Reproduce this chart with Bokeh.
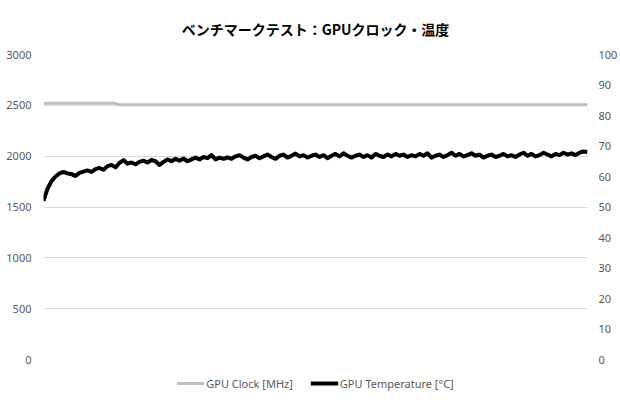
from bokeh.plotting import figure
from bokeh.models import Range1d, LinearAxis, Legend, LegendItem, FixedTicker
from bokeh.embed import file_html
from bokeh.resources import INLINE

title_text = "ベンチマークテスト：GPUクロック・温度"
clock_label = "GPU Clock [MHz]"
temp_label = "GPU Temperature [°C]"

left_ticks = [0, 500, 1000, 1500, 2000, 2500, 3000]
right_ticks = [0, 10, 20, 30, 40, 50, 60, 70, 80, 90, 100]

gpu_temp = [
    52.0, 56.0, 58.5, 60.0, 61.0, 61.5, 61.0, 60.8, 60.2, 61.2,
    61.6, 62.0, 61.5, 62.4, 62.8, 62.2, 63.4, 63.8, 63.0, 64.5,
    65.4, 64.2, 64.6, 64.0, 64.8, 65.2, 64.6, 65.4, 65.0, 63.8,
    64.8, 65.6, 65.0, 65.8, 65.2, 65.9, 65.0, 65.6, 66.2, 65.6,
    66.4, 66.0, 67.0, 65.6, 66.2, 65.8, 66.3, 65.8, 66.6, 67.0,
    66.2, 65.6, 66.4, 66.8, 66.0, 66.6, 67.2, 66.4, 65.8, 66.8,
    67.2, 66.2, 66.8, 67.5, 66.6, 67.0, 66.2, 66.8, 67.2, 66.4,
    67.0, 66.0, 66.8, 67.4, 66.6, 67.6, 66.8, 66.2, 66.8, 67.2,
    66.4, 67.0, 66.2, 67.4, 66.8, 66.4, 67.2, 66.6, 67.4, 66.8,
    67.2, 66.4, 67.0, 66.6, 67.4, 66.8, 67.6, 66.2, 66.8, 67.2,
    66.4, 67.0, 67.8, 66.8, 67.4, 66.6, 67.0, 67.6, 66.8, 67.2,
    66.2, 66.8, 67.2, 66.4, 66.8, 67.4, 66.6, 67.0, 66.4, 67.2,
    67.8, 66.8, 67.4, 66.6, 67.0, 67.8, 67.2, 66.6, 67.4, 67.0,
    67.8, 67.2, 67.6, 67.0, 67.8, 68.2, 68.0,
]

gpu_clock = [
    2520, 2520, 2520, 2520, 2520, 2520, 2520, 2520, 2520, 2520,
    2520, 2520, 2520, 2520, 2520, 2520, 2520, 2520, 2520, 2505,
    2505, 2505, 2505, 2505, 2505, 2505, 2505, 2505, 2505, 2505,
    2505, 2505, 2505, 2505, 2505, 2505, 2505, 2505, 2505, 2505,
    2505, 2505, 2505, 2505, 2505, 2505, 2505, 2505, 2505, 2505,
    2505, 2505, 2505, 2505, 2505, 2505, 2505, 2505, 2505, 2505,
    2505, 2505, 2505, 2505, 2505, 2505, 2505, 2505, 2505, 2505,
    2505, 2505, 2505, 2505, 2505, 2505, 2505, 2505, 2505, 2505,
    2505, 2505, 2505, 2505, 2505, 2505, 2505, 2505, 2505, 2505,
    2505, 2505, 2505, 2505, 2505, 2505, 2505, 2505, 2505, 2505,
    2505, 2505, 2505, 2505, 2505, 2505, 2505, 2505, 2505, 2505,
    2505, 2505, 2505, 2505, 2505, 2505, 2505, 2505, 2505, 2505,
    2505, 2505, 2505, 2505, 2505, 2505, 2505, 2505, 2505, 2505,
    2505, 2505, 2505, 2505, 2505, 2505, 2505,
]

samples = list(range(len(gpu_temp)))

p = figure(
    frame_width=544, frame_height=305,
    output_backend="svg", toolbar_location=None,
    x_range=Range1d(0, len(samples) - 1),
    y_range=Range1d(0, 3000),
    x_axis_type=None,
    min_border_left=43, min_border_right=32,
    min_border_top=54, min_border_bottom=40,
)
p.extra_y_ranges = {"temp": Range1d(0, 100)}

p.title.text = title_text
p.title.align = "center"
p.title.text_font = "Noto Sans CJK JP"
p.title.text_font_size = "14px"
p.title.text_font_style = "bold"
p.title.text_color = "#000000"
p.title.standoff = 31

p.xgrid.visible = False
p.ygrid.ticker = FixedTicker(ticks=left_ticks)
p.ygrid.grid_line_color = "#d9d9d9"
p.outline_line_color = None

ax = p.yaxis[0]
ax.ticker = FixedTicker(ticks=left_ticks)
ax.axis_line_color = None
ax.major_tick_line_color = None
ax.minor_tick_line_color = None
ax.major_tick_out = 0
ax.major_tick_in = 0
ax.minor_tick_out = 0
ax.major_label_text_font = "Noto Sans"
ax.major_label_text_font_size = "11px"
ax.major_label_text_color = "#595959"
ax.major_label_standoff = 12

rax = LinearAxis(y_range_name="temp", ticker=FixedTicker(ticks=right_ticks))
rax.axis_line_color = None
rax.major_tick_line_color = None
rax.minor_tick_line_color = None
rax.major_tick_out = 0
rax.major_tick_in = 0
rax.minor_tick_out = 0
rax.major_label_text_font = "Noto Sans"
rax.major_label_text_font_size = "11px"
rax.major_label_text_color = "#595959"
rax.major_label_standoff = 11
p.add_layout(rax, "right")

r_clock = p.line(samples, gpu_clock, line_color="#bfbfbf", line_width=3)
r_temp = p.line(samples, gpu_temp, line_color="#000000", line_width=4,
                y_range_name="temp", line_join="round")

legend = Legend(
    items=[LegendItem(label=clock_label, renderers=[r_clock]),
           LegendItem(label=temp_label, renderers=[r_temp])],
    orientation="horizontal", location="top_center",
    label_text_font="Noto Sans", label_text_font_size="11px",
    label_text_color="#595959", glyph_width=28, glyph_height=20,
    label_standoff=2, label_height=20,
    spacing=17, border_line_color=None, background_fill_alpha=0,
    margin=14, padding=0,
)
p.add_layout(legend, "below")

open("out.html", "w").write(file_html(p, INLINE))
